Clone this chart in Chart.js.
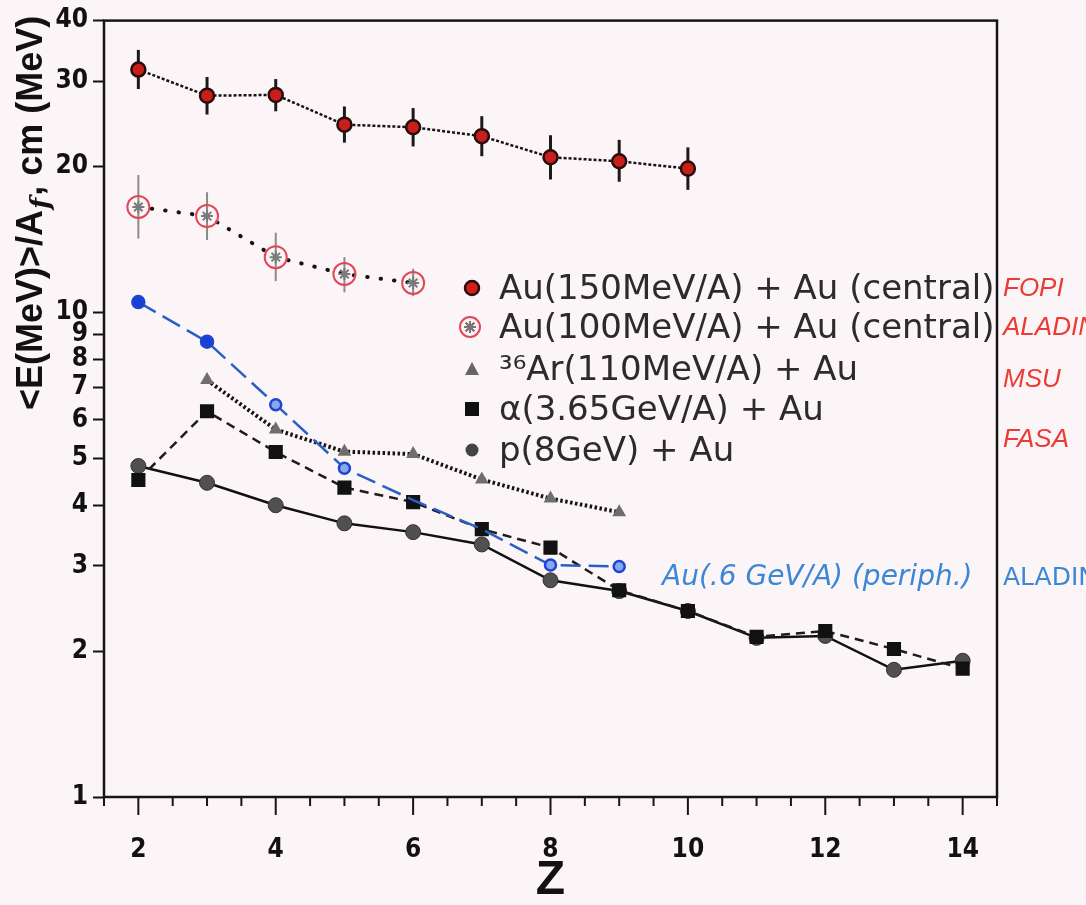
<!DOCTYPE html>
<html>
<head>
<meta charset="utf-8">
<title>E/A vs Z</title>
<script src="https://cdn.jsdelivr.net/npm/chart.js@4.4.1/dist/chart.umd.min.js"></script>
<style>
  html, body { margin: 0; padding: 0; background: #fcf5f7; }
  #wrap { width: 1086px; height: 905px; position: relative; }
</style>
</head>
<body>
<div id="wrap"><canvas id="Chart"></canvas></div>
<script>
// values
var zAu150 = [2, 3, 4, 5, 6, 7, 8, 9, 10];
var eAu150 = [31.7, 28.0, 28.1, 24.4, 24.1, 23.1, 20.9, 20.5, 19.8];
var eAu150Lo = [28.9, 25.6, 26.0, 22.4, 22.0, 21.0, 18.8, 18.6, 17.9];
var eAu150Hi = [34.8, 30.6, 30.3, 26.6, 26.4, 25.4, 23.2, 22.7, 21.9];

var zAu100 = [2, 3, 4, 5, 6];
var eAu100 = [16.5, 15.8, 13.0, 12.0, 11.5];
var eAu100Lo = [14.2, 14.1, 11.6, 11.0, 10.8];
var eAu100Hi = [19.2, 17.7, 14.6, 13.0, 12.3];

var zAu06 = [2, 3, 4, 5, 6, 7, 8, 9];
var eAu06 = [10.5, 8.7, 6.45, 4.77, 4.10, 3.57, 3.01, 2.99];

var zAr = [3, 4, 5, 6, 7, 8, 9];
var eAr = [7.25, 5.73, 5.16, 5.10, 4.52, 4.13, 3.87];

var zAlpha = [2, 3, 4, 5, 6, 7, 8, 9, 10, 11, 12, 13, 14];
var eAlpha = [4.51, 6.25, 5.15, 4.35, 4.06, 3.57, 3.27, 2.67, 2.42, 2.14, 2.20, 2.02, 1.84];

var zP = [2, 3, 4, 5, 6, 7, 8, 9, 10, 11, 12, 13, 14];
var eP = [4.82, 4.45, 4.00, 3.67, 3.52, 3.32, 2.80, 2.66, 2.42, 2.13, 2.15, 1.83, 1.91];

var yTicks = [1, 2, 3, 4, 5, 6, 7, 8, 9, 10, 20, 30, 40];
var xTicks = [1.5, 2, 2.5, 3, 3.5, 4, 4.5, 5, 5.5, 6, 6.5, 7, 7.5, 8, 8.5, 9, 9.5, 10,
              10.5, 11, 11.5, 12, 12.5, 13, 13.5, 14, 14.5];

var legendLabels = ['Au(150MeV/A) + Au (central)', 'Au(100MeV/A) + Au (central)',
                    '\u00B3\u2076Ar(110MeV/A) + Au', '\u03B1(3.65GeV/A) + Au', 'p(8GeV) + Au'];
var groupLabels = ['FOPI', 'ALADIN', 'MSU', 'FASA'];
var periphLabel = 'Au(.6 GeV/A) (periph.)';
var periphGroup = 'ALADIN';

function pts(zs, vs) {
  return zs.map(function (z, i) { return { x: z, y: vs[i] }; });
}

var tickFont = { family: "'Liberation Sans Narrow', 'DejaVu Sans Condensed', 'Liberation Sans'", size: 26, weight: 'bold' };

var figPlugin = {
  id: 'fig',
  beforeDraw: function (chart) {
    var c = chart.ctx;
    c.save();
    c.fillStyle = '#fcf5f7';
    c.fillRect(0, 0, chart.width, chart.height);
    c.restore();
  },
  beforeDatasetsDraw: function (chart) {
    var xs = chart.scales.x, ys = chart.scales.y, c = chart.ctx;
    c.save();
    c.strokeStyle = '#1a1a1a';
    c.lineWidth = 3;
    zAu150.forEach(function (z, i) {
      var px = xs.getPixelForValue(z);
      c.beginPath();
      c.moveTo(px, ys.getPixelForValue(eAu150Lo[i]));
      c.lineTo(px, ys.getPixelForValue(eAu150Hi[i]));
      c.stroke();
    });
    c.strokeStyle = '#8a8a8a';
    c.lineWidth = 2;
    zAu100.forEach(function (z, i) {
      var px = xs.getPixelForValue(z);
      c.beginPath();
      c.moveTo(px, ys.getPixelForValue(eAu100Lo[i]));
      c.lineTo(px, ys.getPixelForValue(eAu100Hi[i]));
      c.stroke();
    });
    c.restore();
  },
  afterDraw: function (chart) {
    var c = chart.ctx, a = chart.chartArea, xs = chart.scales.x;
    c.save();
    // frame
    c.strokeStyle = '#151515';
    c.lineWidth = 2.5;
    c.strokeRect(a.left, a.top, a.right - a.left, a.bottom - a.top);
    // x ticks: long at even Z, short every 0.5
    c.lineWidth = 2;
    xTicks.forEach(function (v) {
      var px = xs.getPixelForValue(v);
      var len = (v % 2 === 0) ? 18 : 9;
      c.beginPath();
      c.moveTo(px, a.bottom);
      c.lineTo(px, a.bottom + len);
      c.stroke();
    });

    // legend
    var rowsY = [288, 327, 369, 409, 450];
    var mx = 472, tx = 499;
    c.font = '34px "DejaVu Sans"';
    c.textBaseline = 'middle';
    c.textAlign = 'left';
    legendLabels.forEach(function (t, i) {
      c.fillStyle = '#2b2b2b';
      c.fillText(t, tx, rowsY[i] + 2);
    });
    // markers
    c.beginPath(); c.arc(mx, rowsY[0], 7, 0, Math.PI * 2);
    c.fillStyle = '#d0201c'; c.fill();
    c.lineWidth = 2.5; c.strokeStyle = '#2a0b0b'; c.stroke();

    c.beginPath(); c.arc(mx - 2, rowsY[1], 10, 0, Math.PI * 2);
    c.lineWidth = 2; c.strokeStyle = '#e0485a'; c.stroke();
    Chart.helpers.drawPoint(c, { pointStyle: 'star', radius: 6, borderWidth: 2 }, mx - 2, rowsY[1]);
    c.strokeStyle = '#777'; c.stroke();

    c.beginPath();
    c.moveTo(mx, rowsY[2] - 7); c.lineTo(mx + 7, rowsY[2] + 6); c.lineTo(mx - 7, rowsY[2] + 6);
    c.closePath(); c.fillStyle = '#666'; c.fill();

    c.fillStyle = '#111';
    c.fillRect(mx - 7, rowsY[3] - 7, 14, 14);

    c.beginPath(); c.arc(mx, rowsY[4], 6.5, 0, Math.PI * 2);
    c.fillStyle = '#444'; c.fill();

    // group names right of the frame
    var gY = [289, 328, 380, 440];
    c.font = 'italic 26px "Liberation Sans"';
    c.fillStyle = '#ea3b34';
    groupLabels.forEach(function (t, i) { c.fillText(t, a.right + 6, gY[i]); });

    // handwritten peripheral note
    c.fillStyle = '#3c86d6';
    c.font = 'italic 28px "DejaVu Sans"';
    c.fillText(periphLabel, 662, 578);
    c.font = '25px "DejaVu Sans"';
    c.fillText(periphGroup, a.right + 6, 578);

    // y title with subscript f
    c.translate(42, 410);
    c.rotate(-Math.PI / 2);
    c.textBaseline = 'alphabetic';
    c.fillStyle = '#111';
    c.font = 'bold 36px "Liberation Sans"';
    var p1 = '<E(MeV)>/A';
    c.fillText(p1, 0, 0);
    var w = c.measureText(p1).width;
    c.font = 'italic bold 26px "DejaVu Serif"';
    c.fillText('f', w + 1, 7);
    w += c.measureText('f').width + 3;
    c.font = 'bold 36px "Liberation Sans"';
    c.fillText(', cm (MeV)', w, 0);
    c.restore();
  }
};

var ctx = document.getElementById('Chart').getContext('2d');
var myChart = new Chart(ctx, {
  type: 'line',
  data: {
    datasets: [
      {
        label: legendLabels[0],
        data: pts(zAu150, eAu150),
        borderColor: '#141414',
        borderWidth: 2.5,
        borderDash: [3, 2],
        pointRadius: 7,
        pointBackgroundColor: '#c81f1c',
        pointBorderColor: '#2a0b0b',
        pointBorderWidth: 2.5
      },
      {
        label: 'star',
        data: pts(zAu100, eAu100),
        showLine: false,
        pointStyle: 'star',
        pointRadius: 6,
        pointBorderColor: '#7a7a7a',
        pointBorderWidth: 2
      },
      {
        label: legendLabels[1],
        data: pts(zAu100, eAu100),
        borderColor: '#141414',
        borderWidth: 4,
        borderCapStyle: 'round',
        borderDash: [0.5, 13],
        pointRadius: 11,
        pointBackgroundColor: 'rgba(0,0,0,0)',
        pointBorderColor: '#e0485a',
        pointBorderWidth: 2
      },
      {
        label: periphLabel,
        data: pts(zAu06, eAu06),
        borderColor: '#2a5fc4',
        borderWidth: 2.5,
        borderDash: [20, 8],
        pointRadius: [6, 6, 5.5, 5.5, 0, 0, 5.5, 5.5],
        pointBackgroundColor: ['#1b3fd6', '#1b3fd6', '#86a8ee', '#86a8ee', '#86a8ee', '#86a8ee', '#86a8ee', '#86a8ee'],
        pointBorderColor: '#1d45d0',
        pointBorderWidth: 2.5
      },
      {
        label: legendLabels[2],
        data: pts(zAr, eAr),
        borderColor: '#141414',
        borderWidth: 4,
        borderDash: [2.5, 2.5],
        pointStyle: 'triangle',
        pointRadius: 8,
        pointBackgroundColor: '#6e6e6e',
        pointBorderWidth: 0
      },
      {
        label: legendLabels[3],
        data: pts(zAlpha, eAlpha),
        borderColor: '#1c1c1c',
        borderWidth: 2.5,
        borderDash: [9, 6],
        pointStyle: 'rect',
        pointRadius: 10,
        pointBackgroundColor: '#111',
        pointBorderWidth: 0
      },
      {
        label: legendLabels[4],
        data: pts(zP, eP),
        borderColor: '#111',
        borderWidth: 2.5,
        pointRadius: 7.5,
        pointBackgroundColor: '#505050',
        pointBorderColor: '#333',
        pointBorderWidth: 1
      }
    ]
  },
  options: {
    responsive: true,
    maintainAspectRatio: false,
    animation: false,
    layout: { padding: { top: 18, right: 89, left: 0, bottom: 0 } },
    plugins: {
      legend: { display: false },
      tooltip: { enabled: false }
    },
    scales: {
      x: {
        type: 'linear',
        min: 1.5,
        max: 14.5,
        afterBuildTicks: function (s) { s.ticks = xTicks.map(function (v) { return { value: v }; }); },
        afterFit: function (s) { s.height = 108; },
        border: { display: false },
        grid: { display: false },
        ticks: {
          autoSkip: false,
          maxRotation: 0,
          padding: 30,
          color: '#111',
          font: tickFont,
          callback: function (v) { return v % 2 === 0 ? String(v) : ''; }
        },
        title: {
          display: true,
          text: 'Z',
          color: '#111',
          padding: { top: 0, bottom: 0 },
          font: { family: "'Liberation Sans'", size: 48, weight: 'bold', lineHeight: 1 }
        }
      },
      y: {
        type: 'logarithmic',
        min: 1,
        max: 40,
        afterBuildTicks: function (s) { s.ticks = yTicks.map(function (v) { return { value: v }; }); },
        afterFit: function (s) { s.width = 104; },
        border: { display: false },
        grid: { drawOnChartArea: false, drawTicks: true, tickLength: 11, tickWidth: 2, tickColor: '#111' },
        ticks: {
          autoSkip: false,
          padding: 5,
          color: '#111',
          font: tickFont,
          callback: function (v) { return String(v); }
        }
      }
    }
  },
  plugins: [figPlugin]
});
</script>
</body>
</html>
